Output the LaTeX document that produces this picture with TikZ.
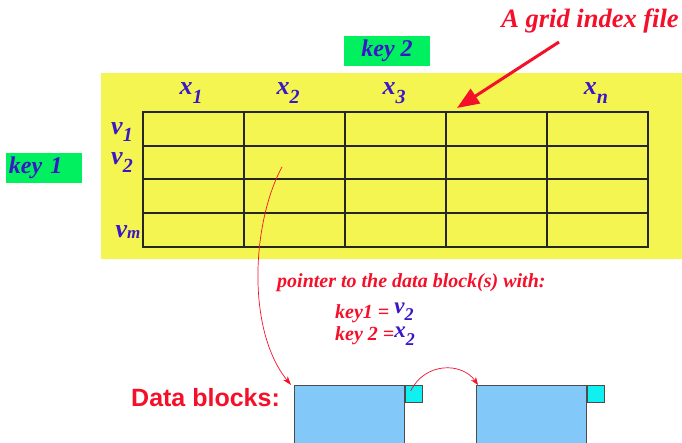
\documentclass[tikz,border=0pt]{standalone}
\usepackage{fontspec}
\setmainfont{Liberation Serif}
\setsansfont{Liberation Sans}
\usetikzlibrary{arrows.meta}
\definecolor{padyellow}{HTML}{F5F552}
\definecolor{keygreen}{HTML}{00F060}
\definecolor{inkblue}{HTML}{3A16C8}
\definecolor{inkred}{HTML}{F5102A}
\definecolor{blockblue}{HTML}{82C8F8}
\definecolor{tagcyan}{HTML}{10F0F0}
% letter with a lowered index: {letter}{index}{index size}{drop}
\newcommand{\idx}[4]{#1\raisebox{-#4}{\fontsize{#3}{#3}\selectfont #2}}
\tikzset{
  x=1pt, y=-1pt,
  axislbl/.style={text=inkblue, font=\bfseries\itshape\fontsize{26}{26}\selectfont, inner sep=0pt, anchor=base},
  keybox/.style={fill=keygreen, text=inkblue, font=\bfseries\itshape\fontsize{24}{24}\selectfont, inner sep=0pt},
  redtxt/.style={text=inkred, inner sep=0pt},
  note/.style={redtxt, font=\bfseries\itshape\fontsize{20}{20}\selectfont, anchor=base west},
  gridline/.style={line width=1.2pt, draw=black!85},
  datablock/.style={fill=blockblue, draw=black!70, line width=0.8pt},
  tag/.style={fill=tagcyan, draw=black!70, line width=0.8pt},
  redlink/.style={draw=inkred, line width=0.7pt},
}
\begin{document}
\begin{tikzpicture}
\useasboundingbox (0,0) rectangle (682,443);
% grid index file background
\fill[padyellow] (101,73) rectangle (682,259);
% grid
\draw[gridline] (143,112) rectangle (648,247);
\foreach \yy in {146,179,213} \draw[gridline] (143,\yy) -- (648,\yy);
\foreach \xx in {244,345,446,547} \draw[gridline] (\xx,112) -- (\xx,247);
% column and row labels
\node[axislbl] (x1) at (191,95) {\idx{x}{1}{20}{9pt}};
\node[axislbl] (x2) at (288,95) {\idx{x}{2}{20}{9pt}};
\node[axislbl] (x3) at (394,95) {\idx{x}{3}{20}{9pt}};
\node[axislbl] (xn) at (596,95) {\idx{x}{n}{20}{9pt}};
\node[axislbl] (v1) at (122,135) {\idx{v}{1}{20}{7pt}};
\node[axislbl] (v2) at (122,165) {\idx{v}{2}{20}{8pt}};
\node[axislbl] (vm) at (128,238) {\idx{v}{m}{17}{1pt}};
% key labels
\node[keybox, minimum width=86, minimum height=30] (key2) at (387,51) {key 2};
\node[keybox, minimum height=30, text width=70, align=left, inner xsep=3] (key1) at (44,168) {key 1};
% title and its arrow
\node[redtxt, font=\bfseries\itshape\fontsize{26.5}{26.5}\selectfont, anchor=base] (title) at (590,28) {A grid index file};
\coordinate (gridtop) at (457,108);
\coordinate (tail) at (559,42);
\draw[draw=inkred, line width=3pt, -{Triangle[length=22pt, width=17pt]}] (tail) -- (gridtop);
% pointer description
\node[note] (ptr) at (277,288) {pointer to the data block(s) with:};
\node[note] (k1) at (335,318) {key1 = \textcolor{inkblue}{\raisebox{5pt}{\fontsize{23}{23}\selectfont v}\raisebox{-2pt}{\fontsize{18}{18}\selectfont 2}}};
\node[note] (k2) at (335,341) {key 2 =\textcolor{inkblue}{\raisebox{3pt}{\fontsize{23}{23}\selectfont x}\raisebox{-5pt}{\fontsize{18}{18}\selectfont 2}}};
% data blocks
\node[redtxt, font=\sffamily\bfseries\fontsize{25}{25}\selectfont, anchor=west] (dbl) at (131,398) {Data blocks:};
\node[datablock, minimum width=110, minimum height=70, inner sep=0pt, anchor=north west] (b1) at (294,385) {};
\node[tag, minimum size=17, inner sep=0pt, anchor=north west] (t1) at (b1.north east) {};
\node[datablock, minimum width=110, minimum height=70, inner sep=0pt, anchor=north west] (b2) at (476,385) {};
\node[tag, minimum size=17, inner sep=0pt, anchor=north west] (t2) at (b2.north east) {};
% pointer from cell (v2, x2) into the first block
\coordinate (cell) at (282,167);
\draw[redlink, -{Stealth[length=9pt, width=6pt]}] (cell) .. controls (252,222) and (246,330) .. ([xshift=-3pt]b1.north west);
% chain link between blocks
\draw[redlink, -{Stealth[length=8pt, width=6pt]}] ([xshift=-3pt,yshift=3pt]t1.center) .. controls (425,362) and (462,362) .. ([xshift=2pt]b2.north west);
\end{tikzpicture}
\end{document}
